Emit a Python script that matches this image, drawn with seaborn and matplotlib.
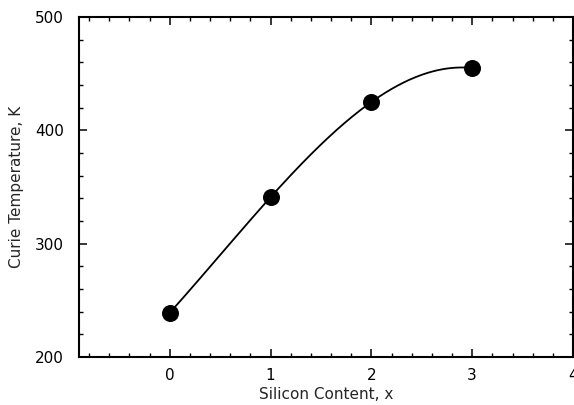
import numpy as np
import pandas as pd
import matplotlib
matplotlib.use("Agg")
import matplotlib.pyplot as plt
from matplotlib.ticker import MultipleLocator
import seaborn as sns

silicon = [0, 1, 2, 3]
curie_temp = [239, 341, 425, 455]

sns.set_style("ticks")
plt.rcParams["font.family"] = ["DejaVu Sans"]

df = pd.DataFrame({"x": silicon, "T": curie_temp})

# smooth cubic through the measured points
coef = np.polyfit(df["x"], df["T"], 3)
xs = np.linspace(min(silicon), max(silicon), 200)
curve = pd.DataFrame({"x": xs, "T": np.polyval(coef, xs)})

fig = plt.figure(figsize=(5.74, 4.05), dpi=100)
ax = fig.add_axes([79 / 574, 1 - 357 / 405, (573 - 79) / 574, (357 - 17) / 405])

sns.lineplot(data=curve, x="x", y="T", color="black", lw=1.3, ax=ax)
sns.scatterplot(data=df, x="x", y="T", color="black", s=150, edgecolor="black",
                linewidth=0, ax=ax, zorder=3)

ax.set_xlim(-0.9, 4)
ax.set_ylim(200, 500)
ax.xaxis.set_major_locator(MultipleLocator(1))
ax.xaxis.set_minor_locator(MultipleLocator(0.2))
ax.yaxis.set_major_locator(MultipleLocator(100))
ax.yaxis.set_minor_locator(MultipleLocator(20))
ax.tick_params(which="both", direction="in", top=True, right=True, colors="black",
               labelsize=11)
ax.tick_params(axis="y", which="major", pad=11)
ax.tick_params(axis="x", which="major", pad=8)
ax.tick_params(which="major", length=6, width=1.1)
ax.tick_params(which="minor", length=3, width=1.0)
for s in ax.spines.values():
    s.set_linewidth(1.5)
    s.set_color("black")

ax.set_xlabel("Silicon Content, x", fontsize=11, labelpad=3)
ax.set_ylabel("Curie Temperature, K", fontsize=11, labelpad=8)

fig.savefig("out.png", dpi=100)
